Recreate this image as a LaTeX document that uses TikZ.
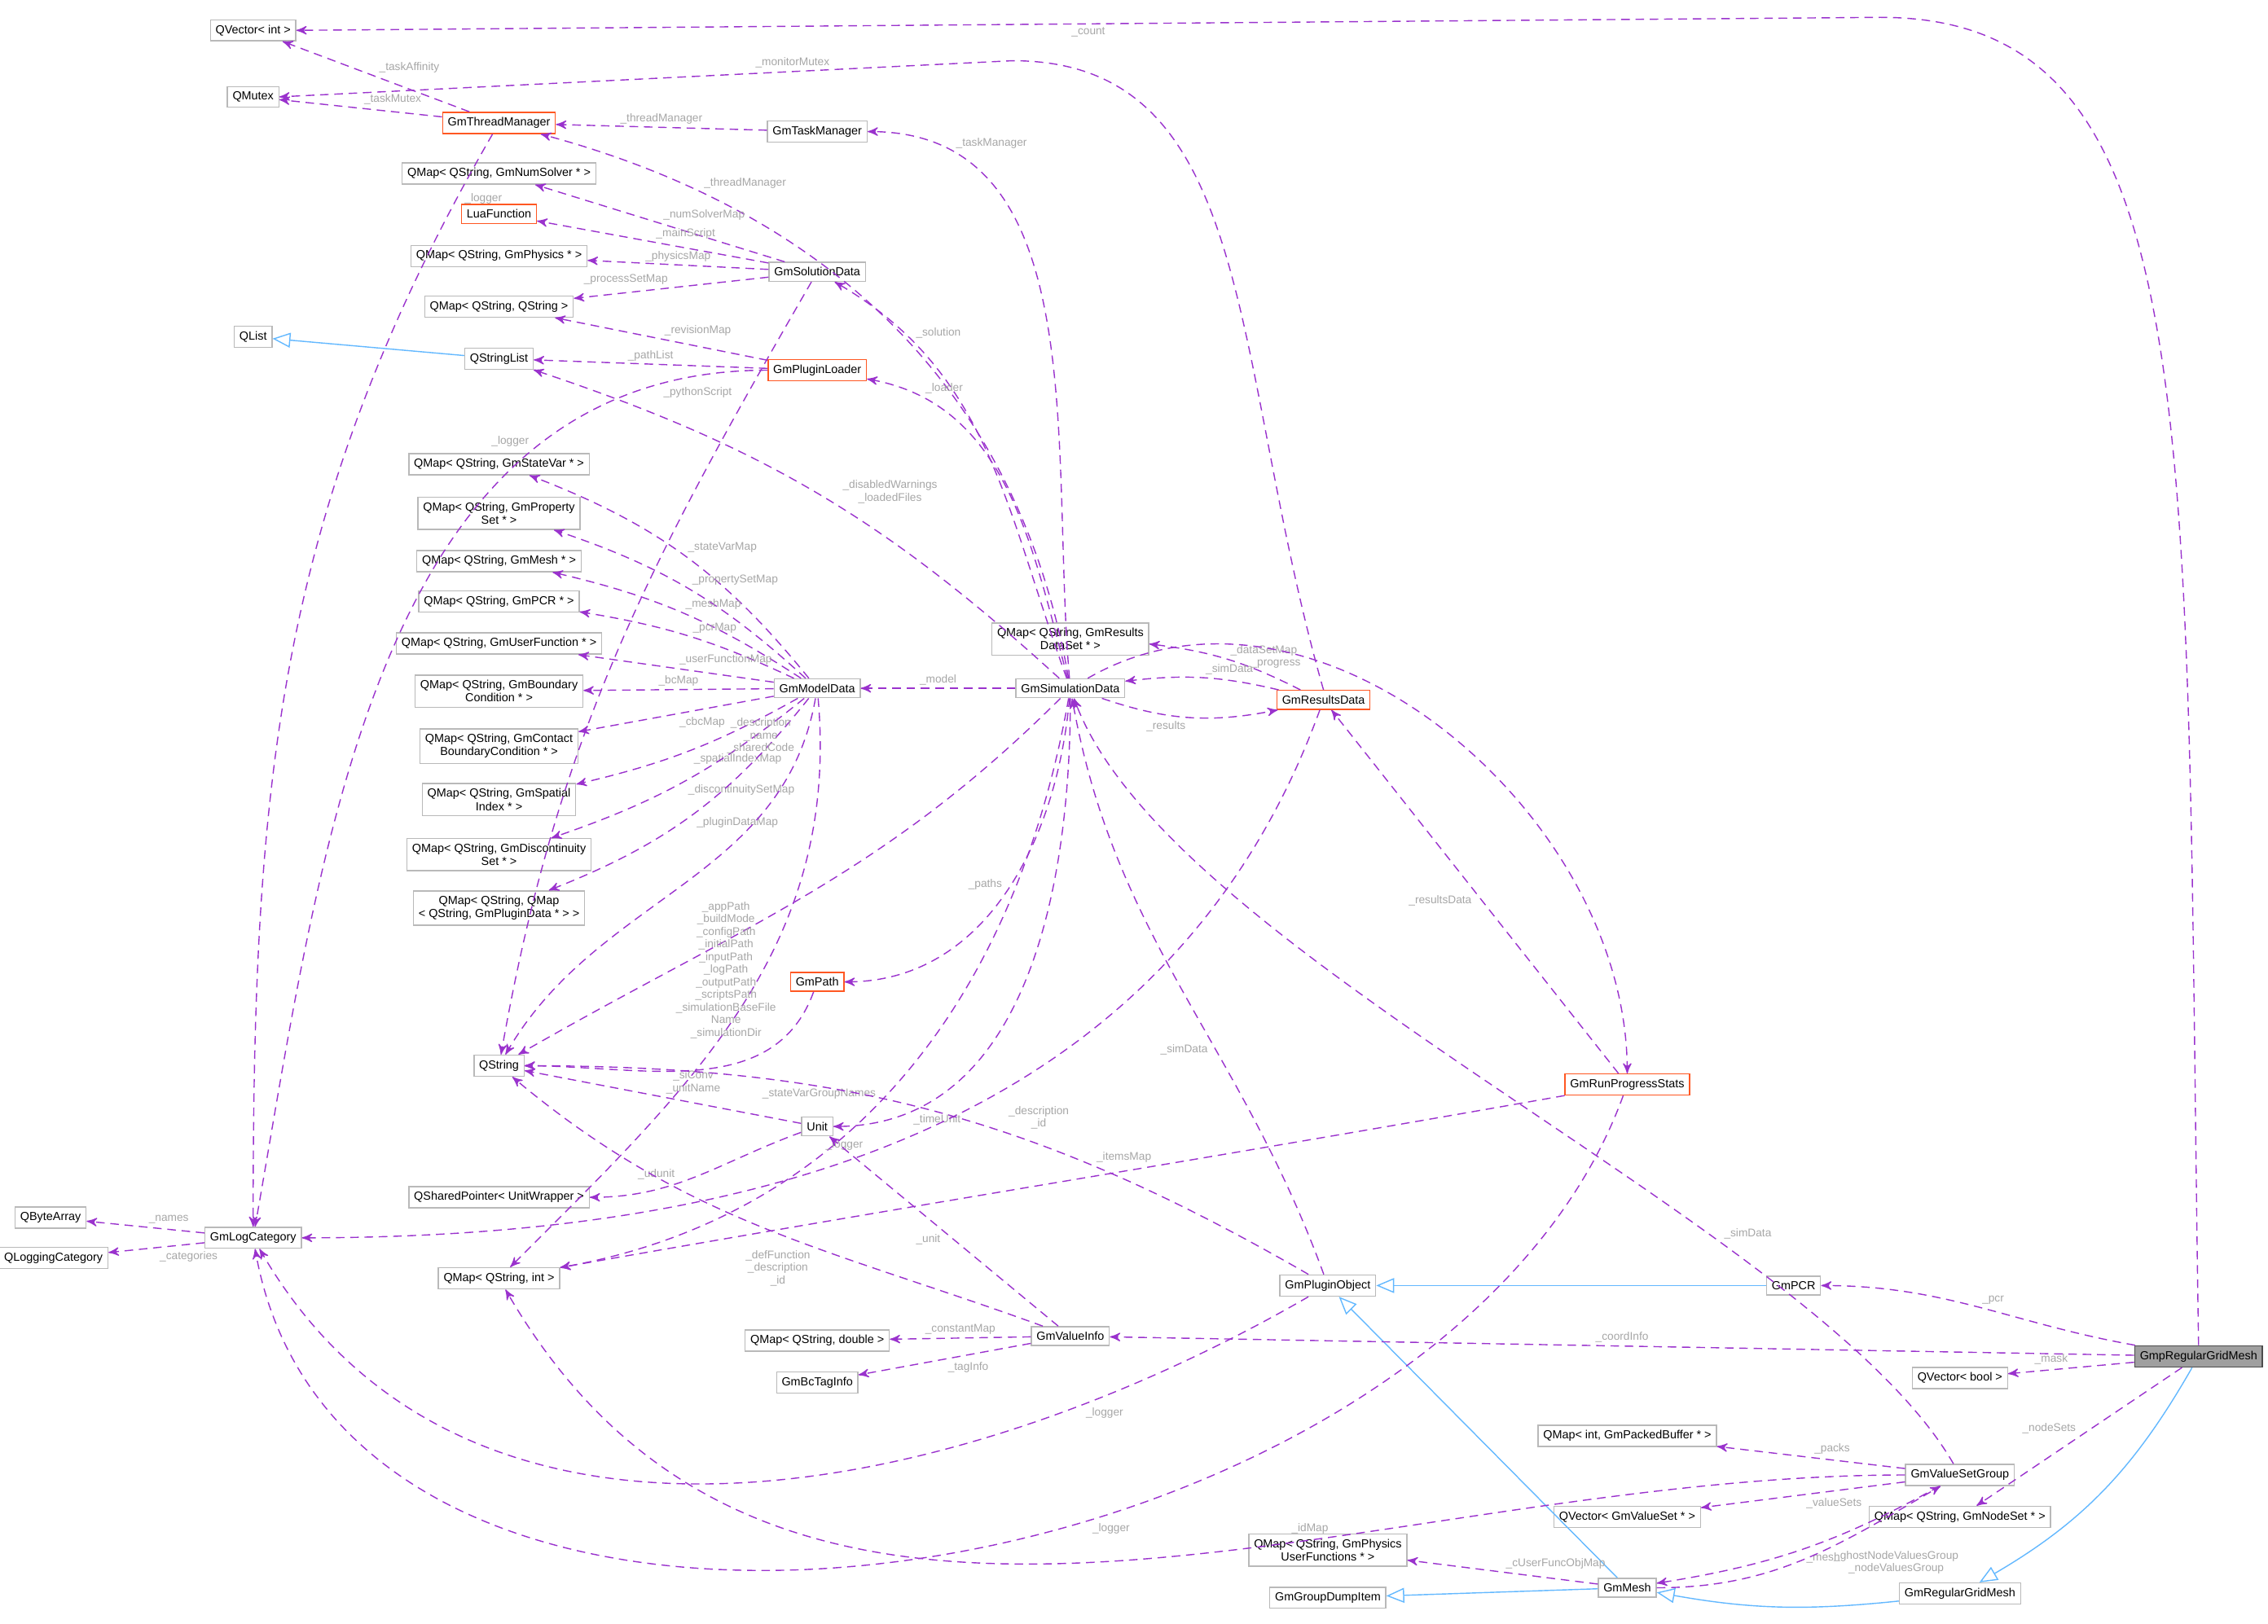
\documentclass[tikz,border=0pt]{standalone}
\usepackage{fontspec}
\setmainfont{Liberation Sans}
\usetikzlibrary{arrows}
\definecolor{depcol}{HTML}{9A32CD}
\definecolor{inhcol}{HTML}{63B8FF}
\definecolor{redcol}{HTML}{FF5722}
\begin{document}
\begin{tikzpicture}[x=0.017755cm,y=-0.017755cm,>=stealth',auto,
    cls/.style={draw=gray!55,fill=white,inner sep=1.8pt,minimum height=0.22cm,
      font=\fontsize{4.1}{4.6}\selectfont,align=center},
    red node/.style={cls,draw=redcol},
    main node/.style={cls,fill=gray!75,draw=black!70},
    dep/.style={->,densely dashed,depcol},
    inh/.style={->,>=open triangle 45,inhcol},
    every node/.style={font=\fontsize{3.9}{4.4}\selectfont},
    lbl/.style={text=gray!70,inner sep=1pt,align=center}]
  \useasboundingbox (0,0) rectangle (1568,1123);
  \node[cls] (qvint) at (175,21) {QVector< int >};
  \node[cls] (qmutex) at (175,67) {QMutex};
  \node[red node] (threadmgr) at (345,85) {GmThreadManager};
  \node[cls] (taskmgr) at (565,91) {GmTaskManager};
  \node[cls] (numsolver) at (345,120) {QMap< QString, GmNumSolver * >};
  \node[red node] (lua) at (345,148) {LuaFunction};
  \node[cls] (physics) at (345,177) {QMap< QString, GmPhysics * >};
  \node[cls] (solution) at (565,188) {GmSolutionData};
  \node[cls] (qmapss) at (345,212) {QMap< QString, QString >};
  \node[cls] (qlist) at (175,233) {QList};
  \node[cls] (qstrlist) at (345,248) {QStringList};
  \node[red node] (loader) at (565,256) {GmPluginLoader};
  \node[cls] (statevar) at (345,321) {QMap< QString, GmStateVar * >};
  \node[cls] (propset) at (345,355) {QMap< QString, GmProperty\\Set * >};
  \node[cls] (meshmap) at (345,388) {QMap< QString, GmMesh * >};
  \node[cls] (pcrmap) at (345,416) {QMap< QString, GmPCR * >};
  \node[cls] (userfn) at (345,445) {QMap< QString, GmUserFunction * >};
  \node[cls] (bcmap) at (345,478) {QMap< QString, GmBoundary\\Condition * >};
  \node[cls] (model) at (565,476) {GmModelData};
  \node[cls] (cbcmap) at (345,516) {QMap< QString, GmContact\\BoundaryCondition * >};
  \node[cls] (spatial) at (345,553) {QMap< QString, GmSpatial\\Index * >};
  \node[cls] (discont) at (345,591) {QMap< QString, GmDiscontinuity\\Set * >};
  \node[cls] (plugdata) at (345,628) {QMap< QString, QMap\\< QString, GmPluginData * > >};
  \node[cls] (rdataset) at (740,442) {QMap< QString, GmResults\\DataSet * >};
  \node[cls] (simdata) at (740,476) {GmSimulationData};
  \node[red node] (results) at (915,484) {GmResultsData};
  \node[red node] (path) at (565,679) {GmPath};
  \node[cls] (qstring) at (345,737) {QString};
  \node[cls] (unit) at (565,779) {Unit};
  \node[red node] (progress) at (1125,750) {GmRunProgressStats};
  \node[cls] (qshared) at (345,828) {QSharedPointer< UnitWrapper >};
  \node[cls] (qbytes) at (35,842) {QByteArray};
  \node[cls] (qlogcat) at (37,870) {QLoggingCategory};
  \node[cls] (logcat) at (175,856) {GmLogCategory};
  \node[cls] (qmapsi) at (345,884) {QMap< QString, int >};
  \node[cls] (plugobj) at (918,889) {GmPluginObject};
  \node[cls] (pcr) at (1240,889) {GmPCR};
  \node[cls] (qmapsd) at (565,927) {QMap< QString, double >};
  \node[cls] (valinfo) at (740,924) {GmValueInfo};
  \node[cls] (bctag) at (565,956) {GmBcTagInfo};
  \node[main node] (gridmesh) at (1520,938) {GmpRegularGridMesh};
  \node[cls] (qvbool) at (1355,953) {QVector< bool >};
  \node[cls] (packed) at (1125,993) {QMap< int, GmPackedBuffer * >};
  \node[cls] (vsgroup) at (1355,1020) {GmValueSetGroup};
  \node[cls] (valsets) at (1125,1049) {QVector< GmValueSet * >};
  \node[cls] (nodesets) at (1355,1049) {QMap< QString, GmNodeSet * >};
  \node[cls] (userfuncs) at (918,1072) {QMap< QString, GmPhysics\\UserFunctions * >};
  \node[cls] (mesh) at (1125,1098) {GmMesh};
  \node[cls] (dump) at (918,1105) {GmGroupDumpItem};
  \node[cls] (regmesh) at (1355,1102) {GmRegularGridMesh};

  \path[inh]
    (qstrlist) edge (qlist)
    (pcr) edge (plugobj)
    (mesh) edge (plugobj)
    (mesh) edge (dump)
    (regmesh) edge[bend left=8] (mesh)
    (gridmesh) edge[bend left=15] (regmesh);

  % long ones round the top
  \draw[dep] (gridmesh.north) .. controls (1510,300) and (1530,12) .. (1300,12)
    -- node[lbl,pos=0.5] {\_count} (qvint.east);
  \draw[dep] (results.north) .. controls (850,250) and (870,42) .. (700,42)
    -- node[lbl,pos=0.3,swap] {\_monitorMutex} (qmutex.east);

  \path[dep]
    (threadmgr) edge node[lbl,swap] {\_taskAffinity} (qvint)
    (threadmgr) edge node[lbl,swap] {\_taskMutex} (qmutex)
    (threadmgr) edge[out=-120,in=90] node[lbl,pos=0.05] {\_logger} (logcat)
    (taskmgr) edge node[lbl,swap] {\_threadManager} (threadmgr)
    (simdata) edge[out=95,in=0] node[lbl,pos=0.85,swap] {\_taskManager} (taskmgr)
    (simdata) edge[out=100,in=-15] node[lbl,pos=0.8,swap] {\_threadManager} (threadmgr)
    (solution) edge node[lbl,swap] {\_numSolverMap} (numsolver)
    (solution) edge node[lbl,swap] {\_mainScript} (lua)
    (solution) edge node[lbl,swap] {\_physicsMap} (physics)
    (solution) edge node[lbl,swap] {\_processSetMap} (qmapss)
    (solution) edge[out=-120,in=80] (qstring)
    (simdata) edge[out=110,in=-30] node[lbl,pos=0.8,swap] {\_solution} (solution)
    (loader) edge node[lbl,swap] {\_revisionMap} (qmapss)
    (loader) edge node[lbl,swap] {\_pathList} (qstrlist)
    (loader) edge[out=180,in=80] node[lbl,pos=0.1] {\_pythonScript} node[lbl,pos=0.25,swap] {\_logger} (logcat)
    (simdata) edge[out=105,in=-10] node[lbl,pos=0.85,swap] {\_loader} (loader)
    (simdata) edge[bend right=12] node[lbl,pos=0.45,swap] {\_disabledWarnings\\\_loadedFiles} (qstrlist)
    (model) edge[bend right=15] node[lbl,swap] {\_stateVarMap} (statevar)
    (model) edge[bend right=12] node[lbl,swap] {\_propertySetMap} (propset)
    (model) edge[bend right=10] node[lbl,swap] {\_meshMap} (meshmap)
    (model) edge[bend right=8] node[lbl,swap] {\_pcrMap} (pcrmap)
    (model) edge node[lbl,swap] {\_userFunctionMap} (userfn)
    (model) edge node[lbl,swap] {\_bcMap} (bcmap)
    (model) edge node[lbl] {\_cbcMap} (cbcmap)
    (model) edge[bend left=8] node[lbl] {\_spatialIndexMap} (spatial)
    (model) edge[bend left=10] node[lbl] {\_discontinuitySetMap} (discont)
    (model) edge[bend left=15] node[lbl] {\_pluginDataMap} (plugdata)
    (model) edge[out=-100,in=60] node[lbl,pos=0.12,swap] {\_description\\\_name\\\_sharedCode} (qstring)
    (model) edge[out=-85,in=45] (qmapsi)
    (simdata) edge node[lbl,swap] {\_model} (model)
    (results) edge[bend right=10] node[lbl,swap] {\_dataSetMap} (rdataset)
    (results) edge[bend right=10] node[lbl,swap] {\_simData} (simdata)
    (simdata) edge[bend right=15] node[lbl,swap] {\_results} (results)
    (simdata) edge[out=30,in=90] node[lbl,pos=0.3,swap] {\_progress} (progress)
    (progress) edge node[lbl] {\_resultsData} (results)
    (simdata) edge[out=-95,in=0] node[lbl,swap] {\_paths} (path)
    (simdata) edge[out=-135,in=30] (qstring)
    (path) edge[out=-110,in=0] node[lbl,pos=0.2,swap] {\_appPath\\\_buildMode\\\_configPath\\\_initialPath\\\_inputPath\\\_logPath\\\_outputPath\\\_scriptsPath\\\_simulationBaseFile\\Name\\\_simulationDir} (qstring)
    (simdata) edge[out=-90,in=0] node[lbl,pos=0.85] {\_timeUnit} (unit)
    (simdata) edge[out=-100,in=10] node[lbl,pos=0.55,swap] {\_stateVarGroupNames} (qmapsi)
    (results) edge[out=-110,in=0] node[lbl,pos=0.55,swap] {\_logger} (logcat)
    (unit) edge node[lbl,swap] {\_siConv\\\_unitName} (qstring)
    (unit) edge[out=-160,in=0] node[lbl,pos=0.6,swap] {\_udunit} (qshared)
    (plugobj) edge[out=150,in=0] node[lbl,pos=0.4,swap] {\_description\\\_id} (qstring)
    (plugobj) edge[out=110,in=-80] node[lbl,pos=0.4] {\_simData} (simdata)
    (progress) edge[out=-170,in=10] node[lbl,pos=0.4,swap] {\_itemsMap} (qmapsi)
    (vsgroup) edge[out=120,in=-70,looseness=0.6] node[lbl,pos=0.3,swap] {\_simData} (simdata)
    (gridmesh) edge[out=170,in=0] node[lbl,swap] {\_pcr} (pcr)
    (gridmesh) edge node[lbl,swap] {\_coordInfo} (valinfo)
    (gridmesh) edge node[lbl,swap] {\_mask} (qvbool)
    (gridmesh) edge node[lbl,swap] {\_nodeSets} (nodesets)
    (valinfo) edge[out=160,in=-40] node[lbl,pos=0.4] {\_defFunction\\\_description\\\_id} (qstring)
    (valinfo) edge node[lbl,pos=0.5] {\_unit} (unit)
    (valinfo) edge node[lbl,swap] {\_constantMap} (qmapsd)
    (valinfo) edge node[lbl] {\_tagInfo} (bctag)
    (plugobj) edge[out=-150,in=-60] node[lbl,pos=0.2] {\_logger} (logcat)
    (progress) edge[out=-110,in=-80] node[lbl,pos=0.4] {\_logger} (logcat)
    (vsgroup) edge[out=180,in=-60] node[lbl,pos=0.35,swap] {\_idMap} (qmapsi)
    (vsgroup) edge node[lbl,swap] {\_packs} (packed)
    (vsgroup) edge node[lbl] {\_valueSets} (valsets)
    (vsgroup) edge[bend left=10] node[lbl] {\_mesh} (mesh)
    (mesh) edge[out=0,in=-150] node[lbl,pos=0.6,swap] {\_ghostNodeValuesGroup\\\_nodeValuesGroup} (vsgroup)
    (mesh) edge node[lbl,swap] {\_cUserFuncObjMap} (userfuncs)
    (logcat) edge node[lbl,swap] {\_names} (qbytes)
    (logcat) edge node[lbl] {\_categories} (qlogcat);
\end{tikzpicture}
\end{document}
